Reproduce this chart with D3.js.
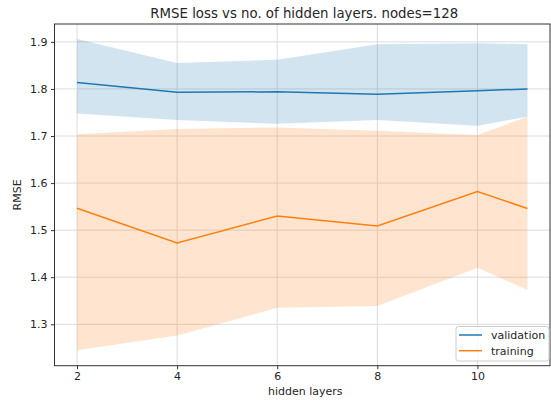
<!DOCTYPE html>
<html><head><meta charset="utf-8">
<script src="https://cdn.jsdelivr.net/npm/d3@7"></script>
<style>
body{margin:0;background:#fff;}
svg{display:block;font-family:"DejaVu Sans",sans-serif;}
</style></head>
<body><svg id="c" width="551" height="401"></svg>
<script>
const layers = [2, 4, 6, 8, 10, 11];
const valMean = [1.8135, 1.793, 1.794, 1.789, 1.796, 1.800];
const valUpper = [1.906, 1.855, 1.862, 1.895, 1.897, 1.895];
const valLower = [1.748, 1.734, 1.726, 1.734, 1.722, 1.741];
const trainMean = [1.5465, 1.473, 1.530, 1.509, 1.582, 1.546];
const trainUpper = [1.704, 1.715, 1.718, 1.711, 1.702, 1.741];
const trainLower = [1.245, 1.276, 1.335, 1.339, 1.420, 1.373];
const xTicks = [2, 4, 6, 8, 10];
const yTicks = [1.3, 1.4, 1.5, 1.6, 1.7, 1.8, 1.9];
const seriesNames = ["validation", "training"];
const colors = ["#1f77b4", "#ff7f0e"];

const svg = d3.select("#c");
const L = 54.5, R = 550, T = 24, B = 365.7;
const x = d3.scaleLinear().domain([1.55, 11.45]).range([L, R]);
const y = d3.scaleLinear().domain([1.212, 1.938]).range([B, T]);

// grid
svg.append("g").selectAll("line").data(xTicks).join("line")
  .attr("x1", d => x(d)).attr("x2", d => x(d)).attr("y1", T).attr("y2", B)
  .attr("stroke", "#dcdcdc").attr("stroke-width", 1);
svg.append("g").selectAll("line").data(yTicks).join("line")
  .attr("y1", d => y(d)).attr("y2", d => y(d)).attr("x1", L).attr("x2", R)
  .attr("stroke", "#dcdcdc").attr("stroke-width", 1);

const idx = d3.range(layers.length);
const area = (lo, hi) => d3.area().x(i => x(layers[i])).y0(i => y(lo[i])).y1(i => y(hi[i]));
const line = (m) => d3.line().x(i => x(layers[i])).y(i => y(m[i]));

svg.append("path").attr("d", area(valLower, valUpper)(idx)).attr("fill", colors[0]).attr("fill-opacity", 0.2);
svg.append("path").attr("d", area(trainLower, trainUpper)(idx)).attr("fill", colors[1]).attr("fill-opacity", 0.2);
svg.append("path").attr("d", line(valMean)(idx)).attr("fill", "none").attr("stroke", colors[0]).attr("stroke-width", 1.5);
svg.append("path").attr("d", line(trainMean)(idx)).attr("fill", "none").attr("stroke", colors[1]).attr("stroke-width", 1.5);

// spines
svg.append("rect").attr("x", L).attr("y", T).attr("width", R - L).attr("height", B - T)
  .attr("fill", "none").attr("stroke", "#333").attr("stroke-width", 1);

// axes
const xAxis = svg.append("g").attr("transform", `translate(0,${B})`)
  .call(d3.axisBottom(x).tickValues(xTicks).tickSize(3.5).tickPadding(3.5).tickFormat(d3.format("d")));
const yAxis = svg.append("g").attr("transform", `translate(${L},0)`)
  .call(d3.axisLeft(y).tickValues(yTicks).tickSize(3.5).tickPadding(3.5).tickFormat(d3.format(".1f")));
[xAxis, yAxis].forEach(a => {
  a.select(".domain").remove();
  a.selectAll("line").attr("stroke", "#333");
  a.selectAll("text").attr("fill", "#262626").style("font-size", "11px").style("font-family", "DejaVu Sans");
});

svg.append("text").attr("x", (L + R) / 2 + 2).attr("y", 18.3).attr("text-anchor", "middle")
  .style("font-size", "13.3px").attr("fill", "#262626").text("RMSE loss vs no. of hidden layers. nodes=128");
svg.append("text").attr("x", (L + R) / 2 + 3).attr("y", 395).attr("text-anchor", "middle")
  .style("font-size", "11px").attr("fill", "#262626").text("hidden layers");
svg.append("text").attr("transform", `translate(21,${(T + B) / 2}) rotate(-90)`).attr("text-anchor", "middle")
  .style("font-size", "11px").attr("fill", "#262626").text("RMSE");

// legend
const lg = svg.append("g");
lg.append("rect").attr("x", 456).attr("y", 326.5).attr("width", 93).attr("height", 34.5).attr("rx", 2.5)
  .attr("fill", "#fff").attr("fill-opacity", 0.8).attr("stroke", "#cccccc").attr("stroke-width", 1);
seriesNames.forEach((n, i) => {
  const yy = 335 + i * 15.7;
  lg.append("line").attr("x1", 459).attr("x2", 482).attr("y1", yy).attr("y2", yy)
    .attr("stroke", colors[i]).attr("stroke-width", 1.5);
  lg.append("text").attr("x", 491).attr("y", yy + 4).style("font-size", "11px").attr("fill", "#262626").text(n);
});
</script></body></html>
